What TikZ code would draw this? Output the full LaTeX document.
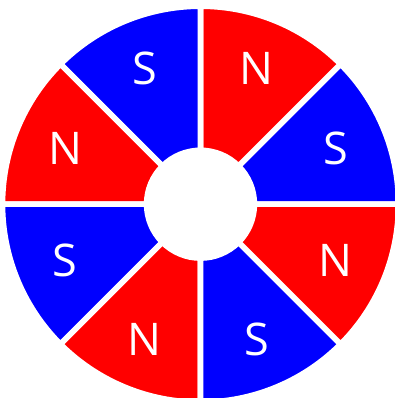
\documentclass[tikz,border=0pt]{standalone}
\usepackage{fontspec}
\setmainfont{Open Sans}
\definecolor{magred}{RGB}{255,0,0}
\definecolor{magblue}{RGB}{0,0,255}
\tikzset{
  sector/.style={line width=5.6pt, draw=white, line join=miter},
  pole/.style={text=white, font=\fontsize{45}{45}\selectfont, inner sep=0pt, anchor=base}
}
\begin{document}
\begin{tikzpicture}[x=1pt,y=1pt]
\useasboundingbox (0,0) rectangle (395,398);
\begin{scope}
\clip (0,0) rectangle (395,398);
\begin{scope}[shift={(200.5,193.8)}]
\foreach \a/\c in {0/magblue,45/magred,90/magblue,135/magred,180/magblue,225/magred,270/magblue,315/magred}{
  \filldraw[sector, fill=\c] (\a:198) arc[start angle=\a, end angle=\a+45, radius=198]
     -- (\a+45:53.9) arc[start angle=\a+45, end angle=\a, radius=53.9] -- cycle;
}
\foreach \a/\t/\n in {22.5/S/s1,67.5/N/n1,112.5/S/s2,157.5/N/n2,202.5/S/s3,247.5/N/n3,292.5/S/s4,337.5/N/n4}{
  \node[pole] (\n) at ([yshift=-16pt]\a:146.5) {\t};
}
\end{scope}
\end{scope}
\end{tikzpicture}
\end{document}
